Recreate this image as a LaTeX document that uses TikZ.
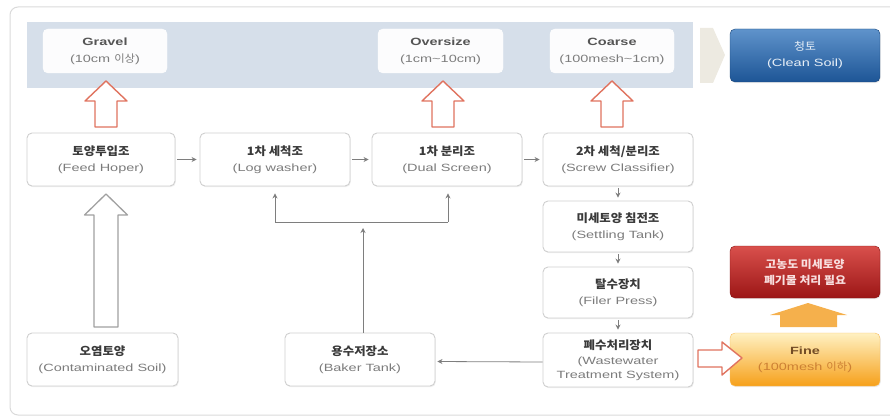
\documentclass[tikz,border=0pt]{standalone}
\usepackage{fontspec}
\usetikzlibrary{arrows.meta,shadows}
\newfontfamily\kr[FakeStretch=1.08]{Noto Sans CJK KR}
\newfontfamily\en[FakeStretch=1.38]{Liberation Sans}
\definecolor{frameline}{HTML}{DADADA}
\definecolor{boxline}{HTML}{CFCFCF}
\definecolor{krtext}{HTML}{3A3A3A}
\definecolor{entext}{HTML}{7C7C7C}
\definecolor{titletext}{HTML}{555555}
\definecolor{band}{HTML}{D6DFEA}
\definecolor{linegray}{HTML}{7E7E7E}
\definecolor{redline}{HTML}{E0735F}
\definecolor{grayarrow}{HTML}{A0A0A0}
\definecolor{chev}{HTML}{EDEAE1}
\definecolor{blueT}{HTML}{5F93CB}
\definecolor{blueB}{HTML}{1D5596}
\definecolor{redT}{HTML}{D9504C}
\definecolor{redB}{HTML}{9C1616}
\definecolor{fineT}{HTML}{FFF1C2}
\definecolor{fineB}{HTML}{F6A01A}
\definecolor{orangearrow}{HTML}{F5B04C}
\newcommand\kt[1]{{\kr\bfseries\fontsize{11.5}{16}\selectfont\color{krtext}#1}}
\newcommand\et[1]{{\en\fontsize{10.5}{16}\selectfont\color{entext}#1}}
\newcommand\ttl[1]{{\en\bfseries\fontsize{10.5}{17}\selectfont\color{titletext}#1}}
\begin{document}
\begin{tikzpicture}[x=1pt,y=-1pt,
  box/.style={draw=boxline, line width=0.9pt, rounded corners=5pt, fill=white,
    minimum width=150pt, minimum height=53pt, align=center, inner sep=1pt,
    font=\fontsize{10.5}{16}\selectfont,
    drop shadow={opacity=0.12, shadow xshift=0.8pt, shadow yshift=-1.2pt}},
  topbox/.style={fill=white!92!band, draw=white, rounded corners=5pt,
    minimum width=124pt, minimum height=44pt, align=center, inner sep=1pt,
    font=\fontsize{10.5}{17}\selectfont},
  colbox/.style={rounded corners=5pt, minimum width=150pt, minimum height=53pt,
    align=center, inner sep=1pt, font=\fontsize{10.5}{16}\selectfont,
    drop shadow={opacity=0.15, shadow xshift=0.8pt, shadow yshift=-1.2pt}},
  conn/.style={draw=linegray, line width=0.8pt, -{Stealth[length=5pt,width=5pt]}},
  plain/.style={draw=linegray, line width=0.8pt},
  redarrow/.style={draw=redline, fill=white, line width=1.4pt, line join=round},
  grayblock/.style={draw=grayarrow, fill=white, line width=1.3pt, line join=round}]
\clip (0,0) rectangle (890,417);
\useasboundingbox (0,0) rectangle (890,417);
% outer frame
\draw[frameline, line width=1pt, rounded corners=8pt] (10,7) rectangle (905,415);
% blue band
\fill[band] (27,22) rectangle (693,88);
% chevron
\fill[chev] (700,28) -- (713,28) -- (725,55) -- (713,83) -- (700,83) -- cycle;

% top boxes
\node[topbox] (gravel) at (105,51) {\ttl{Gravel}\\\et{(10cm {\kr 이상})}};
\node[topbox, minimum width=125pt] (oversize) at (440.5,51) {\ttl{Oversize}\\\et{(1cm\textasciitilde10cm)}};
\node[topbox] (coarse) at (612,51) {\ttl{Coarse}\\\et{(100mesh\textasciitilde1cm)}};
\node[colbox, top color=blueT, bottom color=blueB, draw=blueB!80!black] (clean) at (805,55.5)
  {{\kr\fontsize{11}{16}\selectfont\color{white!85!blueT}청토}\\{\en\color{white!85!blueT}(Clean Soil)}};

% process boxes
\node[box, minimum width=148pt] (feed) at (101,159.5) {\kt{토양투입조}\\\et{(Feed Hoper)}};
\node[box] (log) at (275,159.5) {\kt{1차 세척조}\\\et{(Log washer)}};
\node[box] (dual) at (447,159.5) {\kt{1차 분리조}\\\et{(Dual Screen)}};
\node[box] (screw) at (618,159.5) {\kt{2차 세척/분리조}\\\et{(Screw Classifier)}};
\node[box, minimum height=51pt] (settle) at (618,226.5) {\kt{미세토양 침전조}\\\et{(Settling Tank)}};
\node[box, minimum height=51pt] (filter) at (618,292.5) {\kt{탈수장치}\\\et{(Filer Press)}};
\node[box, minimum height=54pt, font=\fontsize{10.5}{13.5}\selectfont] (waste) at (618,360)
  {\kt{폐수처리장치}\\[1.5pt]\et{(Wastewater}\\\et{Treatment System)}};
\node[box, minimum width=151pt] (contam) at (102.5,359.5) {\kt{오염토양}\\\et{(Contaminated Soil)}};
\node[box] (baker) at (360,359.5) {\kt{용수저장소}\\\et{(Baker Tank)}};
\node[colbox, top color=redT, bottom color=redB, draw=redB!85!black, minimum height=52pt,
  font=\fontsize{11}{16}\selectfont] (red) at (805,272)
  {{\kr\bfseries\color{white!82!redT}고농도 미세토양}\\{\kr\bfseries\color{white!82!redT}폐기물 처리 필요}};
\node[colbox, top color=fineT, bottom color=fineB, draw=fineB!70!white] (fine) at (805,359.5)
  {{\en\bfseries\color{brown!60!black}Fine}\\{\en\fontsize{10.5}{16}\selectfont\color{brown!80!orange}(100mesh {\kr 이하})}};

% block arrows (outline)
\draw[redarrow] (106,81) -- (127,101) -- (117,101) -- (117,127) -- (95,127) -- (95,101) -- (85,101) -- cycle;
\draw[redarrow] (443,81) -- (464,101) -- (454,101) -- (454,127) -- (432,127) -- (432,101) -- (422,101) -- cycle;
\draw[redarrow] (612,81) -- (633,101) -- (623,101) -- (623,127) -- (601,127) -- (601,101) -- (591,101) -- cycle;
\draw[grayblock] (106,194) -- (127.5,215) -- (118,215) -- (118,327) -- (94,327) -- (94,215) -- (84.5,215) -- cycle;
\draw[redarrow] (742,358) -- (722,342) -- (722,350) -- (698,350) -- (698,367) -- (722,367) -- (722,375) -- cycle;
\fill[orangearrow] (808,303) -- (847,315) -- (837,315) -- (837,327) -- (780,327) -- (780,315) -- (770,315) -- cycle;

% connectors
\draw[conn, shorten <=2pt, shorten >=3pt] (feed) -- (log);
\draw[conn, shorten <=2pt, shorten >=3pt] (log) -- (dual);
\draw[conn, shorten <=2pt, shorten >=3pt] (dual) -- (screw);
\draw[conn, shorten <=2pt, shorten >=3pt] (screw) -- (settle);
\draw[conn, shorten <=2pt, shorten >=3pt] (settle) -- (filter);
\draw[conn, shorten <=2pt, shorten >=3pt] (filter) -- (waste);
\draw[conn, shorten >=2pt] ([yshift=-2pt]waste.west) -- ([yshift=-2pt]baker.east);

\coordinate (jl) at (275,222);
\coordinate (jr) at (448,222);
\draw[plain] (jl) -- (jr);
\draw[conn, shorten >=7pt] (jl) -- (jl |- log.south);
\draw[conn, shorten >=7pt] (jr) -- (jr |- dual.south);
\draw[conn, shorten >=6pt] ([xshift=3pt]baker.north) -- ([xshift=3pt]baker.north |- jl);
\end{tikzpicture}
\end{document}
